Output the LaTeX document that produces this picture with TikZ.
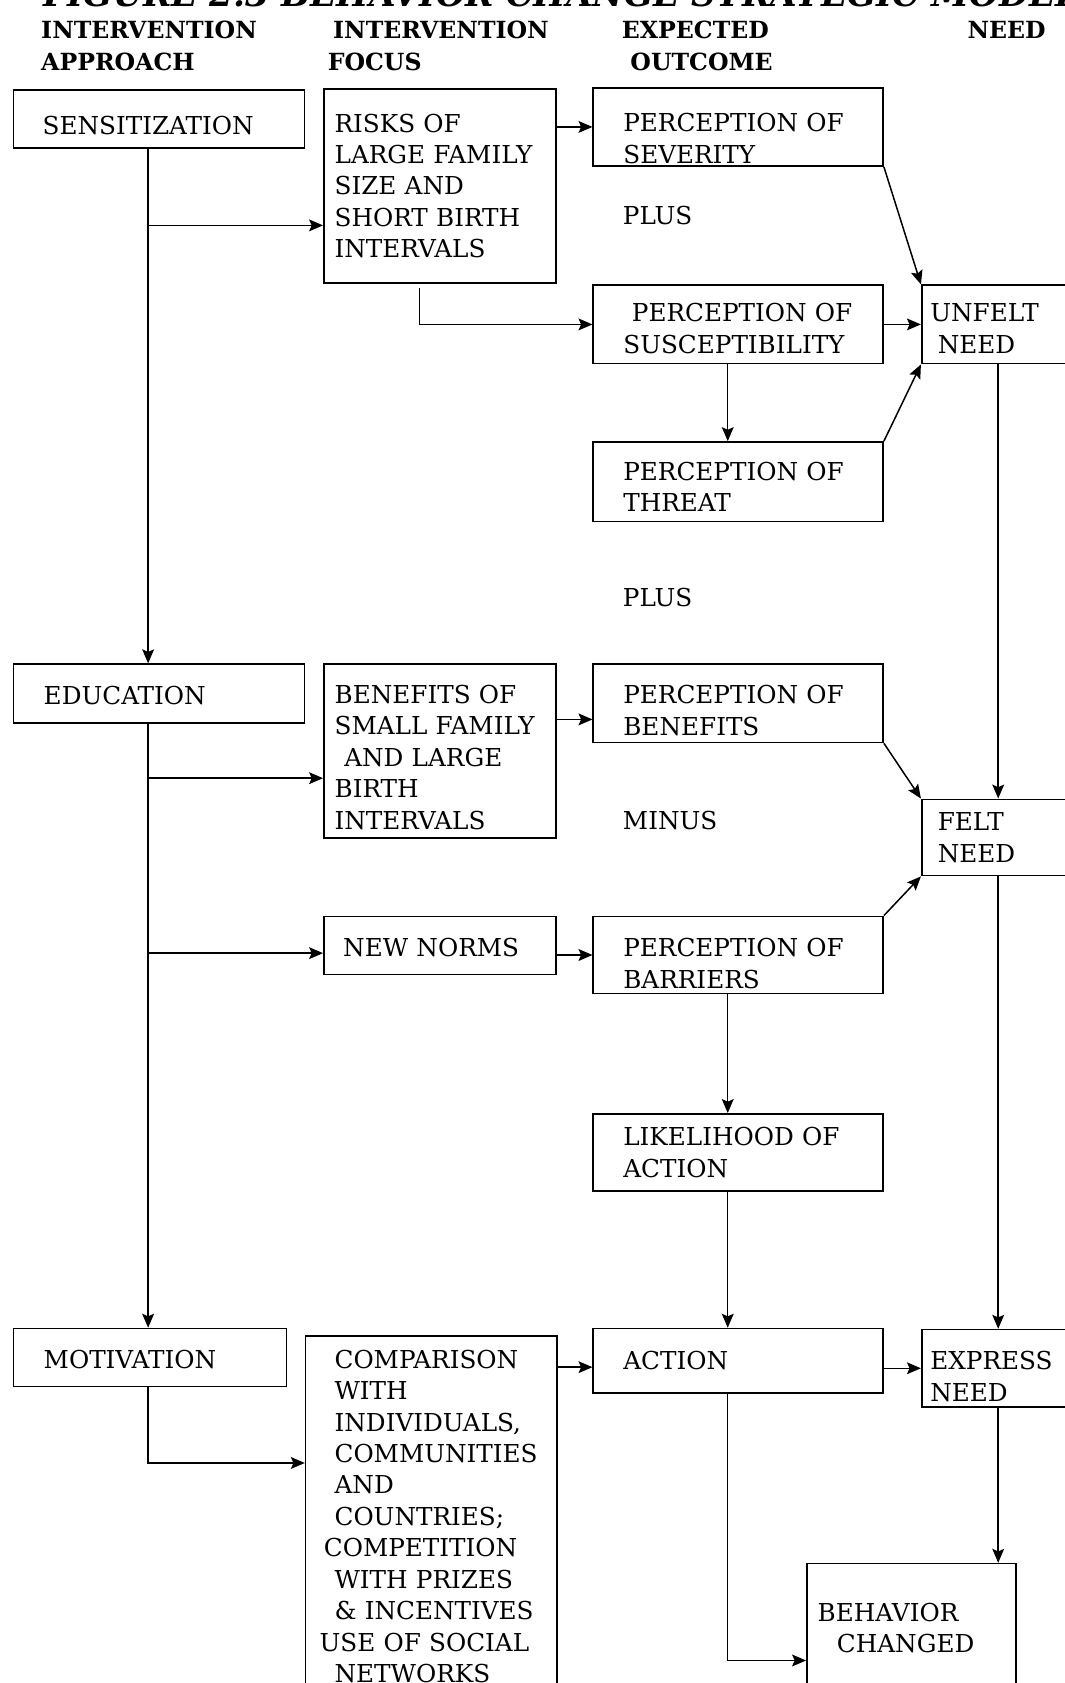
\documentclass[tikz,border=0pt]{standalone}
\usepackage{fontspec}
\setmainfont{DejaVu Serif}
\usetikzlibrary{arrows.meta}

\begin{document}
\begin{tikzpicture}[x=0.5pt,y=-0.5pt,
    box/.style={draw, line width=0.75pt, anchor=north west, align=left, inner ysep=0pt,
        font=\fontsize{11.5}{14.65}\selectfont},
    drop/.style={execute at begin node={\rule{0pt}{#1}}},
    outcome/.style={box, text width=107pt, inner xsep=14pt, minimum height=36.5pt},
    need/.style={box, text width=67pt, inner xsep=4pt, minimum height=36.5pt},
    head/.style={anchor=north west, inner sep=0pt, align=left, font=\fontsize{11}{15}\selectfont\bfseries},
    word/.style={anchor=west, inner sep=0pt, font=\fontsize{11.5}{14.65}\selectfont},
    arr/.style={line width=0.7pt, -{Stealth[length=6.5pt,width=5.5pt,inset=1.2pt]}}]
    \useasboundingbox (0,0) rectangle (992,1568);
    \clip (0,0) rectangle (992,1568);

    \node[anchor=base west, inner sep=0pt, font=\fontsize{16}{16}\selectfont\bfseries\itshape] (title) at (40,6) {FIGURE 2.3 BEHAVIOR CHANGE STRATEGIC MODEL};
    \node[head] (hdapp) at (38,19) {INTERVENTION\\APPROACH};
    \node[head] (hdfoc) at (305,19) {\hspace*{2.5pt}INTERVENTION\\FOCUS};
    \node[head] (hdout) at (579,19) {EXPECTED\\\hspace*{4pt}OUTCOME};
    \node[head] (hdneed) at (901,19) {NEED};

    \node[box, drop=14.4pt, text width=108.5pt, inner xsep=13.5pt, minimum height=27pt] (sens) at (12,83) {SENSITIZATION};
    \node[box, text width=98pt, inner xsep=5pt, minimum height=90.5pt] (risks) at (301,82) {RISKS OF\\LARGE FAMILY\\SIZE AND\\SHORT BIRTH\\INTERVALS};
    \node[outcome, drop=19.4pt] (sev) at (552,81) {PERCEPTION OF\\SEVERITY};
    \node[word] (plus1) at (580,201) {PLUS};
    \node[outcome, drop=12.4pt] (susc) at (552,265) {\hspace*{4pt}PERCEPTION OF\\SUSCEPTIBILITY};
    \node[need, drop=12.4pt] (unfelt) at (858,265) {UNFELT\\\hspace*{3.5pt}NEED};
    \node[outcome, drop=13.4pt, minimum height=37pt] (threat) at (552,411) {PERCEPTION OF\\THREAT};
    \node[word] (plus2) at (580,557) {PLUS};

    \node[box, drop=10.4pt, text width=107.5pt, inner xsep=14pt, minimum height=27.5pt] (edu) at (12,618) {EDUCATION};
    \node[box, drop=14.4pt, text width=98pt, inner xsep=5pt, minimum height=81pt] (bensmall) at (301,618) {BENEFITS OF\\SMALL FAMILY\\\hspace*{4.5pt}AND LARGE\\BIRTH\\INTERVALS};
    \node[outcome, drop=15.4pt] (perben) at (552,618) {PERCEPTION OF\\BENEFITS};
    \node[word] (minus) at (580,764) {MINUS};
    \node[need, inner xsep=7.5pt, text width=60pt, minimum height=35.5pt] (felt) at (858,744) {FELT\\NEED};
    \node[box, drop=10.4pt, text width=90pt, inner xsep=9pt, minimum height=27pt] (norms) at (301,853) {NEW NORMS};
    \node[outcome, drop=16.4pt, minimum height=36pt] (barriers) at (552,853) {PERCEPTION OF\\BARRIERS};
    \node[outcome, minimum height=36pt] (likely) at (552,1037) {LIKELIHOOD OF\\ACTION};

    \node[box, drop=10.4pt, text width=99pt, inner xsep=14pt, minimum height=27pt] (motiv) at (12,1237) {MOTIVATION};
    \node[box, text width=104pt, inner xsep=6.5pt, minimum height=168pt] (comp) at (284,1244) {\hspace*{7pt}COMPARISON\\\hspace*{7pt}WITH\\\hspace*{7pt}INDIVIDUALS,\\\hspace*{7pt}COMMUNITIES\\\hspace*{7pt}AND\\\hspace*{7pt}COUNTRIES;\\\hspace*{2pt}COMPETITION\\\hspace*{7pt}WITH PRIZES\\\hspace*{7pt}\& INCENTIVES\\USE OF SOCIAL\\\hspace*{7pt}NETWORKS};
    \node[outcome, minimum height=30pt] (action) at (552,1237) {ACTION};
    \node[need, drop=16.4pt, minimum height=36pt] (express) at (858,1238) {EXPRESS\\NEED};
    \node[box, text width=87.5pt, inner xsep=5pt, minimum height=60pt] (behav) at (751,1456) {BEHAVIOR\\\hspace*{9pt}CHANGED};

    \coordinate (spine) at (138,0);
    \coordinate (mid) at (678,0);
    \coordinate (needx) at (930,0);
    \coordinate (b1) at (138,210);
    \coordinate (r1) at (391,268);
    \coordinate (b2) at (138,725);
    \coordinate (b3) at (138,888);
    \coordinate (b4) at (138,1363);
    \coordinate (b5) at (678,1547);

    \draw[arr] (sens.south -| spine) -- (edu.north -| spine);
    \draw[arr] (b1) -- (b1 -| risks.west);
    \draw[arr] (risks.east |- sev.west) -- (sev.west);
    \draw[arr] (r1) |- (susc.west);
    \draw[arr] (sev.south east) -- (unfelt.north west);
    \draw[arr] (susc.east) -- (unfelt.west);
    \draw[arr] (susc.south -| mid) -- (threat.north -| mid);
    \draw[arr] (threat.north east) -- (unfelt.south west);
    \draw[arr] (unfelt.south -| needx) -- (felt.north -| needx);

    \draw[arr] (edu.south -| spine) -- (motiv.north -| spine);
    \draw[arr] (b2) -- (b2 -| bensmall.west);
    \draw[arr] (b3) -- (b3 -| norms.west);
    \draw[arr] ([yshift=-7.5pt]bensmall.east |- perben.west) -- ([yshift=-7.5pt]perben.west);
    \draw[arr] (perben.south east) -- (felt.north west);
    \draw[arr] (norms.east |- barriers.west) -- (barriers.west);
    \draw[arr] (barriers.north east) -- (felt.south west);
    \draw[arr] (barriers.south -| mid) -- (likely.north -| mid);
    \draw[arr] (likely.south -| mid) -- (action.north -| mid);
    \draw[arr] (felt.south -| needx) -- (express.north -| needx);

    \draw[arr] (motiv.south -| spine) -- (b4) -- (b4 -| comp.west);
    \draw[arr] ([yshift=-3pt]comp.east |- action.west) -- ([yshift=-3pt]action.west);
    \draw[arr] (action.east |- express.west) -- (express.west);
    \draw[arr] (express.south -| needx) -- (behav.north -| needx);
    \draw[arr] (action.south -| mid) -- (b5) -- (b5 -| behav.west);
\end{tikzpicture}
\end{document}
